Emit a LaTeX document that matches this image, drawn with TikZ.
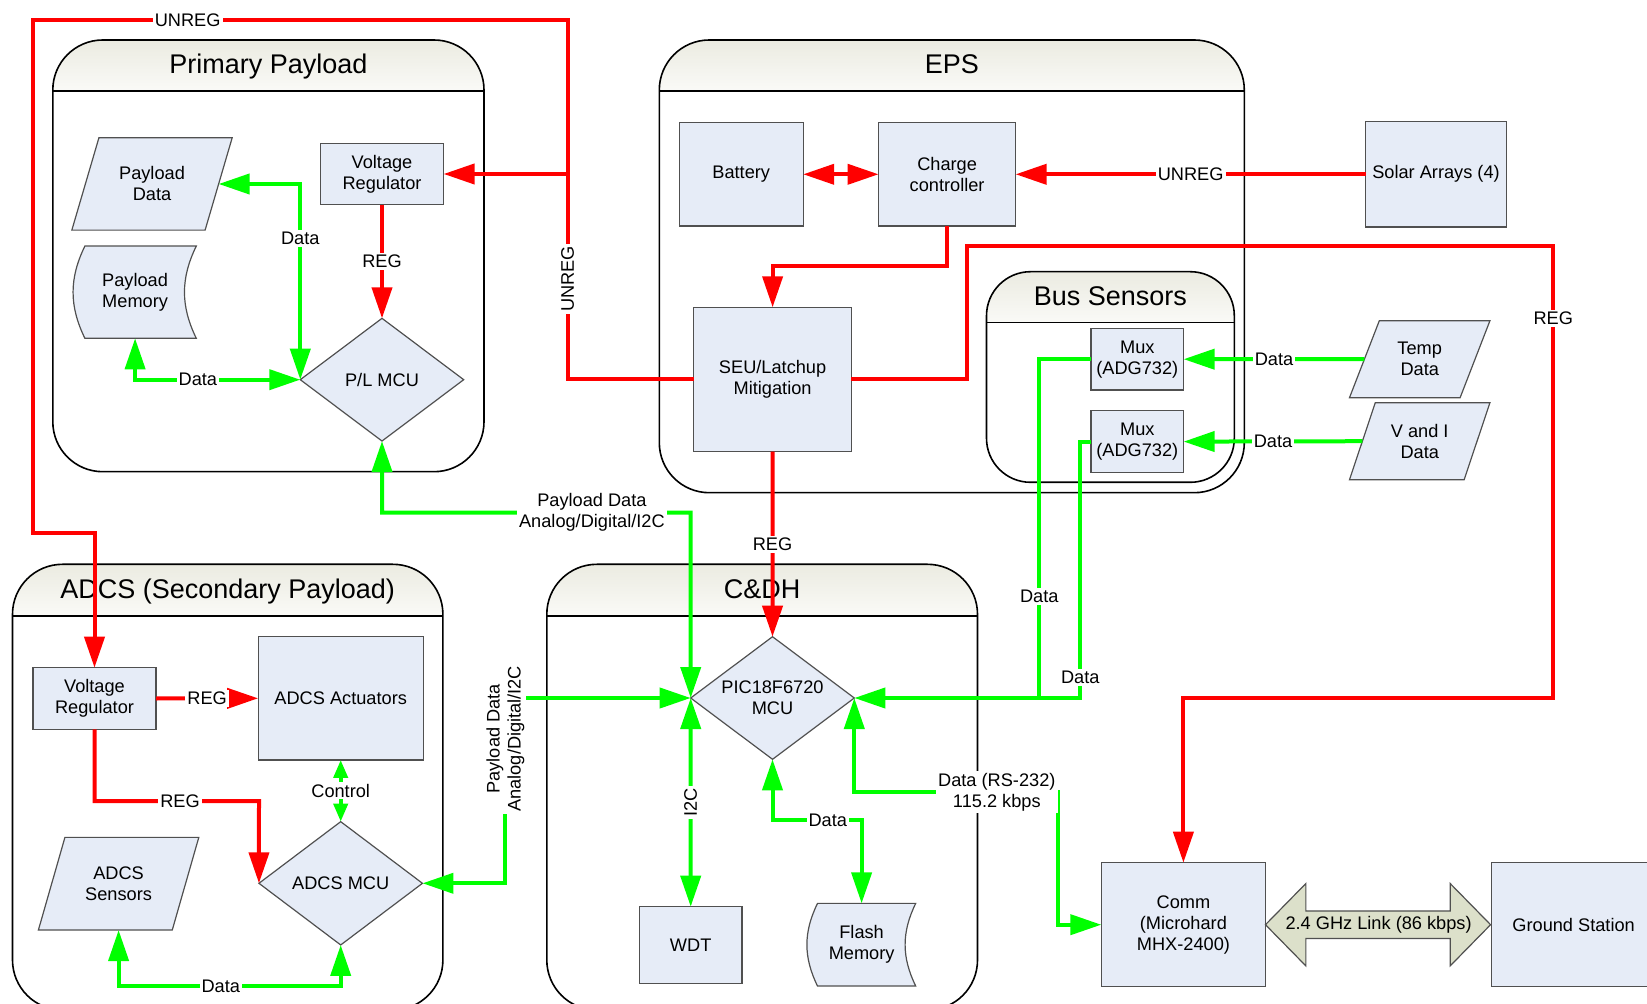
\documentclass[tikz,border=0pt]{standalone}
\usepackage{fontspec}
\setmainfont{Liberation Sans}
\usepackage{xcolor}
\definecolor{boxfill}{HTML}{E6ECF7}
\definecolor{boxline}{HTML}{505050}
\definecolor{hdrtop}{HTML}{EBEBE1}
\definecolor{hdrbot}{HTML}{FAFAF7}
\definecolor{linkfill}{HTML}{DCE0CA}
\definecolor{pwrred}{HTML}{FF0000}
\definecolor{datagreen}{HTML}{00FF00}
\usetikzlibrary{arrows.meta,positioning,calc,shapes.geometric,backgrounds}
\tikzset{
  blk/.style={draw=boxline,fill=boxfill,line width=0.6pt,align=center,inner sep=0pt,outer sep=0pt},
  para/.style={blk,trapezium,trapezium left angle=64,trapezium right angle=116,trapezium stretches=true},
  chip/.style={blk,diamond,aspect=1.33},
  memnode/.style={align=center,inner sep=0pt,outer sep=0pt},
  memline/.style={draw=boxline,fill=boxfill,line width=0.6pt},
  lanebox/.style={draw=black,line width=0.8pt},
  lanetitle/.style={anchor=base,font=\fontsize{13.5}{16}\selectfont},
  pwr/.style={draw=pwrred,line width=2pt},
  sig/.style={draw=datagreen,line width=2pt},
  lbl/.style={fill=white,inner xsep=1pt,inner ysep=1pt,align=center},
  linkshape/.style={draw=boxline,fill=linkfill,line width=0.6pt}
}
% rounded container with a shaded title bar
\newcommand{\swimlane}[8]{%
  \begin{scope}
    \clip[rounded corners=#7] (#2,#3) rectangle (#4,#6);
    \shade[top color=hdrtop,bottom color=hdrbot] (#2,#3) rectangle (#4,#5);
  \end{scope}
  \draw[lanebox,rounded corners=#7] (#2,#3) rectangle (#4,#6);
  \draw[lanebox] (#2,#5) -- (#4,#5);
  \node[lanetitle] (#1) at ({(#2+#4)/2},{#5-17}) {#8};
}

\begin{document}
\begin{tikzpicture}[x=0.5pt,y=-0.5pt,font=\fontsize{9.1}{10.5}\selectfont,>={Triangle[length=15.5pt,width=10pt]}]
\useasboundingbox (0,0) rectangle (1647,1004);

\swimlane{pptitle}{52.8}{40}{484}{91}{471.7}{25pt}{Primary Payload}
\swimlane{epstitle}{659.3}{40}{1244.3}{91}{492.7}{25pt}{EPS}
\swimlane{bustitle}{986.5}{271.7}{1234.3}{322.7}{482.3}{22pt}{Bus Sensors}
\swimlane{adcstitle}{12.5}{564.3}{442.9}{615.7}{1010}{25pt}{ADCS (Secondary Payload)}
\swimlane{cdhtitle}{546.8}{564.3}{977.5}{615.7}{1010}{25pt}{C\&DH}

% primary payload
\node[para,minimum width=80.35pt,minimum height=46.15pt] (pdata) at (152,184) {Payload\\Data};
\node[memnode,minimum width=61.2pt,minimum height=46.15pt] (pmem) at (135.1,292.2) {Payload\\Memory};
\node[blk,minimum width=61.6pt,minimum height=30.7pt] (pvreg) at (382,174) {Voltage\\Regulator};
\node[chip,minimum width=81.7pt,minimum height=61.35pt] (plmcu) at (382,379.7) {P/L MCU};

% EPS
\node[blk,minimum width=62pt,minimum height=51.65pt] (batt) at (741.2,174.3) {Battery};
\node[blk,minimum width=68.5pt,minimum height=51.65pt,right=37.7pt of batt] (charge) {Charge\\controller};
\node[blk,minimum width=78.8pt,minimum height=72.2pt] (seu) at (772.6,379.5) {SEU/Latchup\\Mitigation};
\node[blk,minimum width=46.3pt,minimum height=30.85pt] (mux1) at (1137.3,359.2) {Mux\\(ADG732)};
\node[blk,minimum width=46.3pt,minimum height=30.85pt,below=10.35pt of mux1] (mux2) {Mux\\(ADG732)};
\node[blk,minimum width=70.3pt,minimum height=52.65pt] (solar) at (1436,174.3) {Solar Arrays (4)};
\node[para,minimum width=70.35pt,minimum height=38.5pt] (temp) at (1419.7,359.2) {Temp\\Data};
\node[para,minimum width=70.35pt,minimum height=38.5pt,below=2.5pt of temp] (vandi) {V and I\\Data};

% ADCS
\node[blk,minimum width=61.55pt,minimum height=30.8pt] (avreg) at (94.5,698.5) {Voltage\\Regulator};
\node[blk,minimum width=82.5pt,minimum height=61.65pt] (act) at (340.7,698.3) {ADCS Actuators};
\node[chip,minimum width=81.75pt,minimum height=61.65pt] (amcu) at (340.7,883.3) {ADCS MCU};
\node[para,minimum width=80.4pt,minimum height=46.35pt] (asens) at (118.6,883.7) {ADCS\\Sensors};

% C&DH
\node[chip,minimum width=81.8pt,minimum height=61.3pt] (cdhmcu) at (772.5,698) {PIC18F6720\\MCU};
\node[blk,minimum width=51.25pt,minimum height=38.3pt] (wdt) at (690.7,945) {WDT};
\node[memnode,minimum width=54.1pt,minimum height=41.35pt] (flash) at (861.6,944.7) {Flash\\Memory};

% comm and ground
\node[blk,minimum width=82.05pt,minimum height=62pt] (comm) at (1183.4,924.7) {Comm\\(Microhard\\MHX-2400)};
\node[blk,minimum width=81.9pt,minimum height=62pt] (ground) at (1573.6,924.7) {Ground Station};

\begin{scope}[on background layer]
\draw[memline] ([xshift=5.5pt]pmem.north west) -- (pmem.north east) to[bend right=26] (pmem.south east) -- ([xshift=5.5pt]pmem.south west) to[bend left=26] ([xshift=5.5pt]pmem.north west) -- cycle;
\draw[memline] ([xshift=5pt]flash.north west) -- (flash.north east) to[bend right=26] (flash.south east) -- ([xshift=5pt]flash.south west) to[bend left=26] ([xshift=5pt]flash.north west) -- cycle;
\end{scope}

\coordinate (utop) at (567.5,20);
\coordinate (uleft) at (32.5,20);
\coordinate (ulow) at (32.5,533);
\coordinate (rtop) at (967.4,246);
\coordinate (rlow) at (1553.3,698.3);
\coordinate (mjoin) at (1039.3,698);
\coordinate (mjoin2) at (1080.3,698);
\coordinate (ptop) at (690.7,512.7);
\coordinate (aside) at (505.4,698);
\coordinate (rsbend) at (1057.9,792.3);
\coordinate (aregbend) at (259,801);

% power
\draw[pwr,->] (seu.west) -| node[lbl,rotate=90,pos=0.64]{UNREG} (utop) -- node[lbl,pos=0.71]{UNREG} (uleft) -- (ulow) -| (avreg.north);
\draw[pwr,->] (utop |- pvreg.east) -- (pvreg.east);
\draw[pwr,->] (pvreg.south) -- node[lbl]{REG} (plmcu.north);
\draw[pwr,<->] (batt.east) -- (charge.west);
\draw[pwr,->] (solar.west) -- node[lbl]{UNREG} (charge.east);
\draw[pwr,->] (charge.south) -- ++(0,40) -| (seu.north);
\draw[pwr,->] (seu.south) -- node[lbl]{REG} (cdhmcu.north);
\draw[pwr,->] (seu.east) -| (rtop) -| node[lbl,pos=0.58]{REG} (rlow) -| (comm.north);
\draw[pwr,->] (avreg.east) -- node[lbl]{REG} (act.west);
\draw[pwr,->] (avreg.south) |- node[lbl,pos=0.76]{REG} (aregbend) -- (amcu.west);

% data
\draw[sig,<->] (pdata.east) -| node[lbl,pos=0.64]{Data} (plmcu.west);
\draw[sig,<->] (pmem.south) |- node[lbl,pos=0.69]{Data} (plmcu.west);
\draw[sig,->] (temp.west) -- node[lbl]{Data} (mux1.east);
\draw[sig,->] (vandi.west) -- node[lbl]{Data} (mux2.east);
\draw[sig,->] (mux1.west) -| node[lbl,pos=0.85]{Data} (mjoin) -- (cdhmcu.east);
\draw[sig] (mux2.west) -| node[lbl,pos=0.96]{Data} (mjoin2) -- (mjoin);
\draw[sig,<->] (plmcu.south) |- node[lbl,pos=0.84]{Payload Data\\Analog/Digital/I2C} (ptop) -- (cdhmcu.west);
\draw[sig,<->] (amcu.east) -| node[lbl,rotate=90,pos=0.89]{Payload Data\\Analog/Digital/I2C} (aside) -- (cdhmcu.west);
\draw[sig,<->] (cdhmcu.west) -- node[lbl,rotate=90]{I2C} (wdt.north);
\draw[sig,<->] (cdhmcu.south) -- ++(0,61) -| node[lbl,pos=0.31]{Data} (flash.north);
\draw[sig,<->] (cdhmcu.east) |- node[lbl,pos=0.85]{Data (RS-232)\\115.2 kbps} (rsbend) |- (comm.west);
\draw[sig,<->,>={Triangle[length=9pt,width=7pt]}] (act.south) -- node[lbl]{Control} (amcu.north);
\draw[sig,<->] (asens.south) -- ++(0,56) -| node[lbl,pos=0.23]{Data} (amcu.south);

% radio link
\draw[linkshape] (comm.east) -- ++(40.4,-41.2) -- ++(0,27.4) -- ++(144.3,0) -- ++(0,-27.4) -- ++(40.4,41.2) -- ++(-40.4,41.2) -- ++(0,-27.4) -- ++(-144.3,0) -- ++(0,27.4) -- cycle;
\node (link) at ($(comm.east)!0.5!(ground.west)$) {2.4 GHz Link (86 kbps)};
\end{tikzpicture}
\end{document}
